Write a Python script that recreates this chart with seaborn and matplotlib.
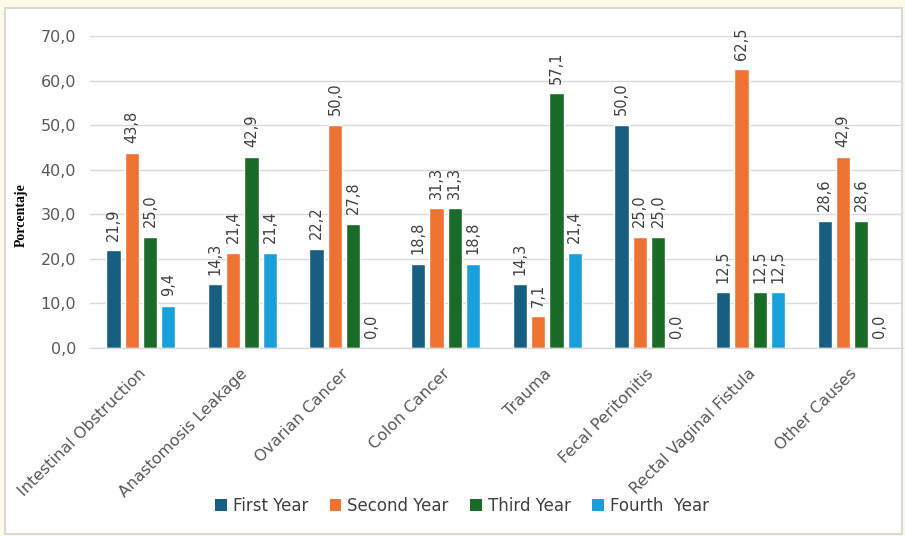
import matplotlib
matplotlib.use("Agg")
import matplotlib.pyplot as plt
import matplotlib.transforms as mtransforms
from matplotlib.patches import Rectangle
import seaborn as sns
import pandas as pd

causes = ["Intestinal Obstruction", "Anastomosis Leakage", "Ovarian Cancer",
          "Colon Cancer", "Trauma", "Fecal Peritonitis",
          "Rectal Vaginal Fistula", "Other Causes"]
years = ["First Year", "Second Year", "Third Year", "Fourth  Year"]
first_year = [21.9, 14.3, 22.2, 18.8, 14.3, 50.0, 12.5, 28.6]
second_year = [43.8, 21.4, 50.0, 31.3, 7.1, 25.0, 62.5, 42.9]
third_year = [25.0, 42.9, 27.8, 31.3, 57.1, 25.0, 12.5, 28.6]
fourth_year = [9.4, 21.4, 0.0, 18.8, 21.4, 0.0, 12.5, 0.0]
y_ticks = [0, 10, 20, 30, 40, 50, 60, 70]

colors = ["#175E80", "#EE7332", "#1A6B27", "#19A0DA"]

rows = []
for year, vals in zip(years, [first_year, second_year, third_year, fourth_year]):
    for c, v in zip(causes, vals):
        rows.append({"cause": c, "year": year, "value": v})
df = pd.DataFrame(rows)

sns.set_theme(style="white")
plt.rcParams["font.family"] = ["DejaVu Sans"]

fig = plt.figure(figsize=(9.05, 5.36), dpi=100)
fig.patch.set_facecolor("#FEFAE8")

# white chart panel with a light border, kept behind the axes
panel = Rectangle((5 / 905, 1 - 534 / 536), 897 / 905, 526 / 536,
                  transform=fig.transFigure, facecolor="white",
                  edgecolor="#D9D9D9", linewidth=1.5, zorder=-5)
fig.patches.append(panel)

ax = fig.add_axes([90 / 905, 1 - 348 / 536, 813 / 905, 312 / 536])
ax.set_facecolor("none")

sns.barplot(data=df, x="cause", y="value", hue="year", palette=colors,
            order=causes, hue_order=years, width=0.72, gap=0.22,
            saturation=1, ax=ax, legend=True)

for cont in ax.containers:
    labels = [f"{b.get_height():.1f}".replace(".", ",") for b in cont]
    ax.bar_label(cont, labels=labels, rotation=90, padding=7,
                 fontsize=10.5, color="#404040")

ax.set_ylim(0, 70)
ax.set_yticks(y_ticks)
ax.set_yticklabels([f"{t:.1f}".replace(".", ",") for t in y_ticks],
                   fontsize=11.5, color="#595959")
ax.tick_params(axis="y", length=0, pad=10)
ax.tick_params(axis="x", length=0, pad=13)
ax.grid(axis="y", color="#D9D9D9", linewidth=1)
ax.set_axisbelow(True)
for s in ["top", "right", "left"]:
    ax.spines[s].set_visible(False)
ax.spines["bottom"].set_color("#D9D9D9")
ax.spines["bottom"].set_linewidth(1)

ax.set_xlabel("")
ax.set_ylabel("")
shift = mtransforms.ScaledTranslation(-3 / 100, 0, fig.dpi_scale_trans)
for lbl in ax.get_xticklabels():
    lbl.set_rotation(45)
    lbl.set_ha("right")
    lbl.set_va("top")
    lbl.set_rotation_mode("anchor")
    lbl.set_fontsize(11.5)
    lbl.set_color("#595959")
    lbl.set_transform(lbl.get_transform() + shift)

fig.text(21 / 905, 1 - 215 / 536, "Porcentaje", rotation=90,
         fontfamily="Liberation Serif", fontweight="bold", fontsize=10,
         color="#000000", ha="center", va="center")

ax.get_legend().remove()
handles = [Rectangle((0, 0), 1, 1, facecolor=c, edgecolor="none") for c in colors]
fig.legend(handles, years, loc="center", bbox_to_anchor=(462 / 905, 1 - 506 / 536),
           ncol=4, frameon=False, fontsize=12, handlelength=0.7,
           handleheight=0.7, handletextpad=0.35, columnspacing=1.3,
           labelcolor="#404040")

fig.savefig("out.png", dpi=100, facecolor=fig.get_facecolor())
